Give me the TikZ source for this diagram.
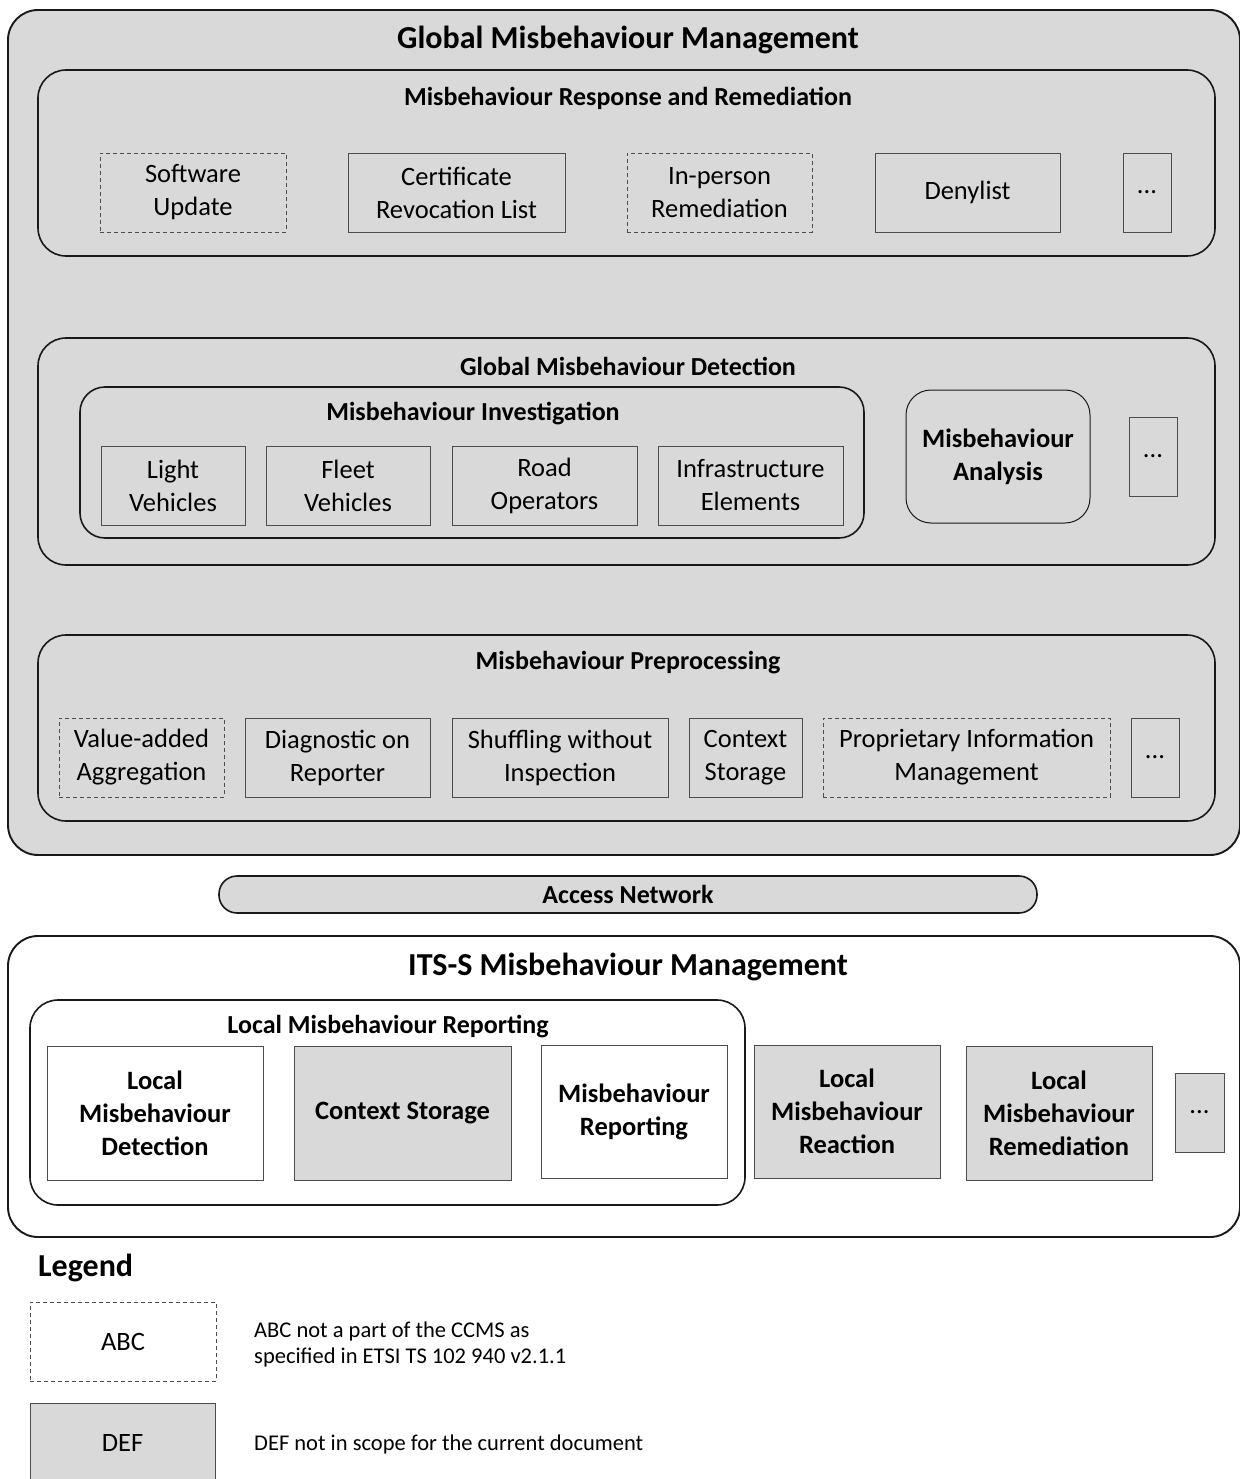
\documentclass[tikz,border=0pt]{standalone}
\usepackage{fontspec}
\setmainfont{Carlito}
\usepackage{tikz}
\usetikzlibrary{backgrounds,calc}
\definecolor{boxgray}{HTML}{D9D9D9}
\definecolor{edgegray}{HTML}{4D4D4D}

\begin{document}
\begin{tikzpicture}[x=1pt,y=-1pt,
  panel/.style={draw=black!90,line width=1.9pt,rounded corners=30pt,inner sep=0pt},
  group/.style={draw=black!90,line width=1.6pt,rounded corners=28pt,inner sep=0pt},
  item/.style={draw=edgegray,line width=0.9pt,align=center,inner sep=0pt,
    font=\fontsize{26.5}{33}\selectfont},
  ext/.style={item,dash pattern=on 4pt off 3pt},
  oos/.style={item,fill=boxgray},
  bolditem/.style={item,font=\fontsize{26.5}{33}\selectfont\bfseries},
  head/.style={font=\fontsize{32}{36}\selectfont\bfseries},
  subhead/.style={font=\fontsize{26}{30}\selectfont\bfseries},
  note/.style={font=\fontsize{22.5}{26}\selectfont,align=left,anchor=west,inner sep=0pt}]
\useasboundingbox (0,0) rectangle (1239,1479);

% global part
\node[panel,fill=boxgray,minimum width=1232pt,minimum height=845pt] (gmm) at (624,432.5) {};
\node[head] (gmmtitle) at (628,40) {Global Misbehaviour Management};

\node[group,minimum width=1177pt,minimum height=186pt] (resp) at (626.5,163) {};
\node[subhead] (resptitle) at (628,98) {Misbehaviour Response and Remediation};
\node[ext,minimum width=186pt,minimum height=79pt] (swu) at (193,192.5) {Software\\Update};
\node[item,minimum width=217pt,minimum height=79pt] (crl) at (456.5,192.5) {Certificate\\Revocation List};
\node[ext,minimum width=185pt,minimum height=79pt] (ipr) at (719.5,192.5) {In-person\\Remediation};
\node[item,minimum width=185pt,minimum height=79pt] (dny) at (967.5,192.5) {Denylist};
\node[item,minimum width=48pt,minimum height=79pt] (rdots) at (1147,192.5) {...};

\node[group,minimum width=1177pt,minimum height=227pt] (det) at (626.5,451.5) {};
\node[subhead] (dettitle) at (628,366) {Global Misbehaviour Detection};
\node[group,rounded corners=25pt,minimum width=784pt,minimum height=151pt] (inv) at (472,462.5) {};
\node[subhead] (invtitle) at (473,414) {Misbehaviour Investigation};
\node[item,minimum width=144pt,minimum height=79pt] (lv) at (173,485.5) {Light\\Vehicles};
\node[item,minimum width=164pt,minimum height=79pt] (fv) at (348,485.5) {Fleet\\Vehicles};
\node[item,minimum width=185pt,minimum height=79pt] (ro) at (544.5,485.5) {Road\\Operators};
\node[item,minimum width=185pt,minimum height=79pt] (ie) at (750.5,485.5) {Infrastructure\\Elements};
\node[bolditem,draw=black!90,line width=1pt,rounded corners=25pt,minimum width=184pt,minimum height=133pt] (ana) at (998,456.5) {Misbehaviour\\Analysis};
\node[item,minimum width=48pt,minimum height=79pt] (ddots) at (1153,456.5) {...};

\node[group,minimum width=1177pt,minimum height=186pt] (pre) at (626.5,728) {};
\node[subhead] (pretitle) at (628,663) {Misbehaviour Preprocessing};
\node[ext,minimum width=165pt,minimum height=79pt] (vaa) at (141.5,757.5) {Value-added\\Aggregation};
\node[item,minimum width=185pt,minimum height=79pt] (dor) at (337.5,757.5) {Diagnostic on\\Reporter};
\node[item,minimum width=216pt,minimum height=79pt] (swi) at (560,757.5) {Shuffling without\\Inspection};
\node[item,minimum width=113pt,minimum height=79pt] (cst) at (745.5,757.5) {Context\\Storage};
\node[ext,minimum width=287pt,minimum height=79pt] (pim) at (966.5,757.5) {Proprietary Information\\Management};
\node[item,minimum width=48pt,minimum height=79pt] (pdots) at (1155,757.5) {...};

% access network
\node[subhead,draw=black!90,line width=1.6pt,fill=boxgray,rounded corners=18pt,minimum width=818pt,minimum height=37pt,inner sep=0pt] (acc) at (628,894.5) {Access Network};

% its-s part
\node[panel,fill=white,minimum width=1232pt,minimum height=301pt] (its) at (624,1086.5) {};
\node[head] (itstitle) at (628,967) {ITS-S Misbehaviour Management};
\node[group,minimum width=715pt,minimum height=205pt] (lmr) at (387.5,1102.5) {};
\node[subhead] (lmrtitle) at (388,1027) {Local Misbehaviour Reporting};
\node[bolditem,minimum width=216pt,minimum height=134pt] (lmd) at (155,1113) {Local\\Misbehaviour\\Detection};
\node[bolditem,fill=boxgray,minimum width=217pt,minimum height=134pt] (cs) at (402.5,1113) {Context Storage};
\node[bolditem,minimum width=186pt,minimum height=133pt] (mrp) at (634,1111.5) {Misbehaviour\\Reporting};
\node[bolditem,fill=boxgray,minimum width=186pt,minimum height=133pt] (lrc) at (847,1111.5) {Local\\Misbehaviour\\Reaction};
\node[bolditem,fill=boxgray,minimum width=186pt,minimum height=134pt] (lrm) at (1059,1113) {Local\\Misbehaviour\\Remediation};
\node[oos,minimum width=49pt,minimum height=79pt] (idots) at (1199.5,1112.5) {...};

% legend
\node[head,anchor=west,inner sep=0pt] (leg) at (38,1268) {Legend};
\node[ext,minimum width=186pt,minimum height=79pt] (abc) at (123,1341.5) {ABC};
\node[note] (abctext) at (254,1344) {ABC not a part of the CCMS as\\specified in ETSI TS 102 940 v2.1.1};
\node[oos,minimum width=185pt,minimum height=79pt] (def) at (122.5,1442.5) {DEF};
\node[note] (deftext) at (254,1444) {DEF not in scope for the current document};
\end{tikzpicture}
\end{document}
